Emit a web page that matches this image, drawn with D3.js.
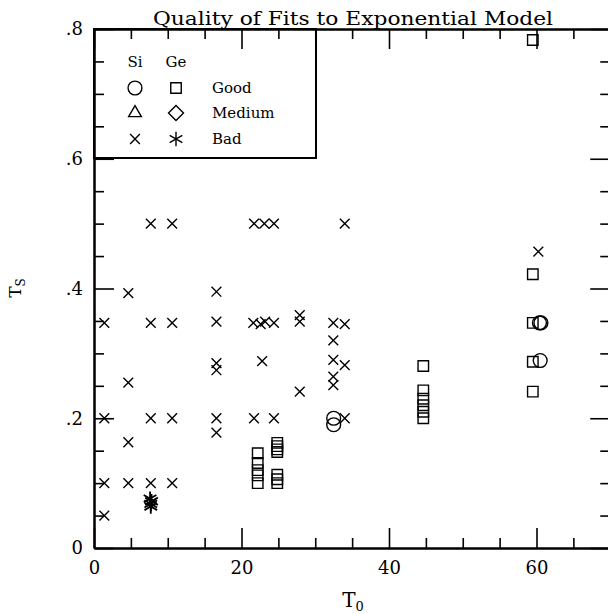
<!DOCTYPE html>
<html>
<head>
<style>
body { margin: 0; background: #fff; }
svg text { font-family: "DejaVu Serif", serif; fill: #000; }
.axis path, .axis line { stroke: #000; fill: none; }
.axis path { stroke-width: 2; }
.axis line { stroke-width: 1.6; }
.mark { fill: none; stroke: #000; stroke-width: 1.4; }
.mark.geBad { stroke-width: 1.8; }
</style>
</head>
<body>
<svg width="608" height="614"></svg>
<script src="https://cdn.jsdelivr.net/npm/d3@7"></script>
<script>
// [T0, Ts] pairs
var siGood = [[32.5, 0.2], [32.5, 0.19], [60.4, 0.347], [60.6, 0.347], [60.5, 0.289]];
var siMedium = [];
var siBad = [
  [1.4, 0.347], [1.4, 0.2], [1.4, 0.1], [1.4, 0.05],
  [4.65, 0.393], [4.65, 0.255], [4.65, 0.163], [4.65, 0.1],
  [7.7, 0.5], [7.7, 0.347], [7.7, 0.2], [7.7, 0.1],
  [10.6, 0.5], [10.6, 0.347], [10.6, 0.2], [10.6, 0.1],
  [16.6, 0.395], [16.6, 0.349], [16.6, 0.285], [16.6, 0.274], [16.6, 0.2], [16.6, 0.178],
  [21.7, 0.5], [21.6, 0.347], [21.7, 0.2],
  [22.6, 0.345], [22.8, 0.288], [23.1, 0.5], [23.2, 0.349],
  [24.4, 0.5], [24.4, 0.347], [24.4, 0.2],
  [27.9, 0.359], [27.9, 0.349], [27.9, 0.241],
  [32.45, 0.347], [32.45, 0.32], [32.45, 0.29], [32.45, 0.264], [32.45, 0.251],
  [34, 0.5], [34, 0.345], [34, 0.282], [34, 0.2],
  [60.25, 0.457]
];
var geGood = [
  [22.2, 0.146], [22.2, 0.131], [22.2, 0.12], [22.2, 0.112], [22.2, 0.1],
  [24.85, 0.162], [24.85, 0.157], [24.85, 0.152], [24.85, 0.148],
  [24.85, 0.113], [24.85, 0.106], [24.85, 0.1],
  [44.65, 0.2805], [44.65, 0.243], [44.65, 0.23], [44.65, 0.22], [44.65, 0.21], [44.65, 0.2],
  [59.5, 0.783], [59.5, 0.422], [59.5, 0.347], [59.5, 0.287], [59.5, 0.241]
];
var geMedium = [];
var geBad = [[7.7, 0.064], [7.7, 0.068], [7.8, 0.072], [7.6, 0.076]];

var xMajorTicks = [0, 20, 40, 60];
var xMinorTicks = [5, 10, 15, 25, 30, 35, 45, 50, 55, 65];
var yMajorTicks = [0, 0.2, 0.4, 0.6, 0.8];
var yTickLabels = ["0", ".2", ".4", ".6", ".8"];
var yMinorTicks = [0.05, 0.1, 0.15, 0.25, 0.3, 0.35, 0.45, 0.5, 0.55, 0.65, 0.7, 0.75];

var legendCols = ["Si", "Ge"];
var legendRows = ["Good", "Medium", "Bad"];

var plotLeft = 94, plotRight = 610.25, plotTop = 29, plotBottom = 548;

var svg = d3.select("svg");

var x = d3.scaleLinear().domain([0, 70]).range([plotLeft, plotRight]);
var y = d3.scaleLinear().domain([0, 0.8]).range([plotBottom, plotTop]);

function styleAxis(g) {
  g.attr("class", "axis").attr("font-family", null).attr("font-size", null);
  g.selectAll("text").style("font-size", "18px");
}

// bottom
svg.append("g").attr("transform", "translate(0," + plotBottom + ")")
  .call(d3.axisBottom(x).tickValues(xMajorTicks).tickSize(-20).tickSizeOuter(0).tickPadding(13).tickFormat(d3.format("d")))
  .call(styleAxis);
svg.append("g").attr("transform", "translate(0," + plotBottom + ")")
  .call(d3.axisBottom(x).tickValues(xMinorTicks).tickSize(-10).tickSizeOuter(0).tickFormat(""))
  .call(styleAxis);
// top
svg.append("g").attr("transform", "translate(0," + plotTop + ")")
  .call(d3.axisTop(x).tickValues(xMajorTicks).tickSize(-20).tickSizeOuter(0).tickFormat(""))
  .call(styleAxis);
svg.append("g").attr("transform", "translate(0," + plotTop + ")")
  .call(d3.axisTop(x).tickValues(xMinorTicks).tickSize(-10).tickSizeOuter(0).tickFormat(""))
  .call(styleAxis);
// left
svg.append("g").attr("transform", "translate(" + plotLeft + ",0)")
  .call(d3.axisLeft(y).tickValues(yMajorTicks).tickSize(-20).tickSizeOuter(0).tickPadding(11)
    .tickFormat(function(d, i) { return yTickLabels[i]; }))
  .call(styleAxis);
svg.append("g").attr("transform", "translate(" + plotLeft + ",0)")
  .call(d3.axisLeft(y).tickValues(yMinorTicks).tickSize(-10).tickSizeOuter(0).tickFormat(""))
  .call(styleAxis);
// right
svg.append("g").attr("transform", "translate(" + plotRight + ",0)")
  .call(d3.axisRight(y).tickValues(yMajorTicks).tickSize(-20).tickSizeOuter(0).tickFormat(""))
  .call(styleAxis);
svg.append("g").attr("transform", "translate(" + plotRight + ",0)")
  .call(d3.axisRight(y).tickValues(yMinorTicks).tickSize(-10).tickSizeOuter(0).tickFormat(""))
  .call(styleAxis);

// symbols
var shapes = {
  siGood: d3.symbol().type(d3.symbolCircle).size(150),
  siMedium: d3.symbol().type(d3.symbolTriangle).size(70),
  siBad: d3.symbol().type(d3.symbolTimes).size(64),
  geGood: d3.symbol().type(d3.symbolSquare).size(110),
  geMedium: d3.symbol().type(d3.symbolDiamond2).size(144),
  geBad: d3.symbol().type(d3.symbolAsterisk).size(150)
};
var series = { siGood: siGood, siMedium: siMedium, siBad: siBad, geGood: geGood, geMedium: geMedium, geBad: geBad };

Object.keys(series).forEach(function(k) {
  svg.append("g").selectAll("path")
    .data(series[k])
    .enter().append("path")
    .attr("class", "mark " + k)
    .attr("d", shapes[k]())
    .attr("transform", function(d) { return "translate(" + x(d[0]) + "," + y(d[1]) + ")"; });
});

// legend
var legend = svg.append("g");
legend.append("rect")
  .attr("x", plotLeft).attr("y", plotTop)
  .attr("width", 316 - plotLeft).attr("height", 158 - plotTop)
  .attr("fill", "none").attr("stroke", "#000").attr("stroke-width", 2);
var colX = [135, 176];
legend.selectAll(".lhead").data(legendCols).enter().append("text")
  .attr("x", function(d, i) { return colX[i]; }).attr("y", 67)
  .attr("text-anchor", "middle").style("font-size", "15px").text(function(d) { return d; });
var rowY = [88, 113, 139];
legend.selectAll(".lrow").data(legendRows).enter().append("text")
  .attr("x", 212).attr("y", function(d, i) { return rowY[i] + 5; })
  .style("font-size", "15px").text(function(d) { return d; });
var legendKeys = [["siGood", "geGood"], ["siMedium", "geMedium"], ["siBad", "geBad"]];
legendKeys.forEach(function(row, i) {
  row.forEach(function(k, j) {
    legend.append("path").attr("class", "mark")
      .attr("d", shapes[k]())
      .attr("transform", "translate(" + colX[j] + "," + rowY[i] + ")");
  });
});

// title and axis labels
svg.append("text")
  .attr("x", 353).attr("y", 25)
  .attr("text-anchor", "middle")
  .attr("textLength", 400).attr("lengthAdjust", "spacingAndGlyphs")
  .style("font-size", "18px")
  .text("Quality of Fits to Exponential Model");

var xl = svg.append("text").attr("x", 353).attr("y", 607).attr("text-anchor", "middle").style("font-size", "20px");
xl.append("tspan").text("T");
xl.append("tspan").attr("dy", 4).style("font-size", "13px").text("0");

var yl = svg.append("text").attr("transform", "translate(21,288) rotate(-90)").attr("text-anchor", "middle").style("font-size", "17px");
yl.append("tspan").text("T");
yl.append("tspan").attr("dy", 4).style("font-size", "12px").text("S");
</script>
</body>
</html>
